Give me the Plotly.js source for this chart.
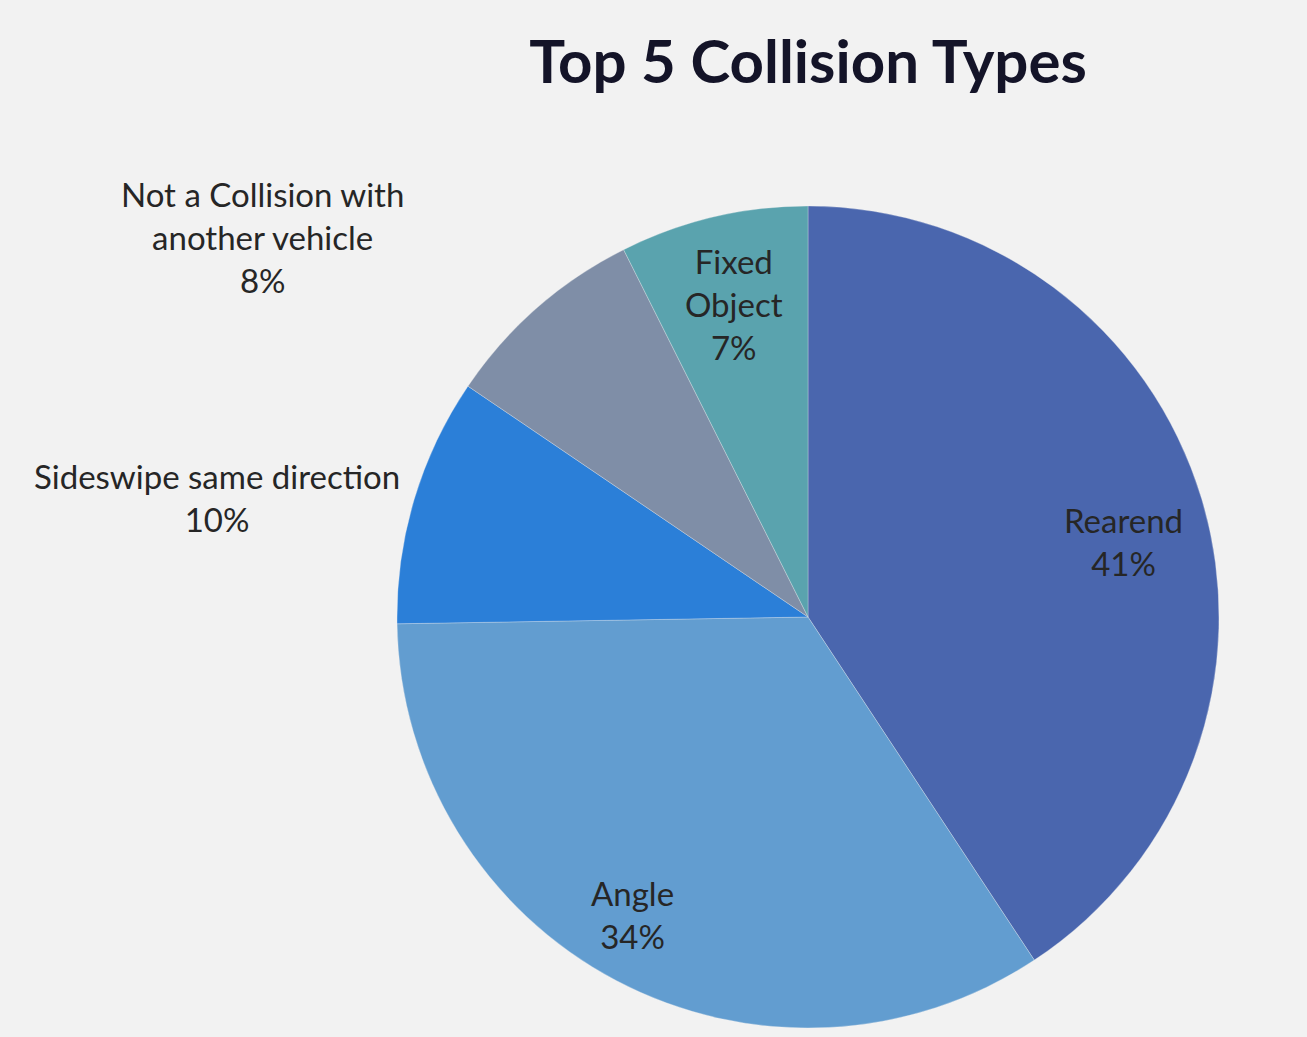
<!DOCTYPE html>
<html>
<head>
<meta charset="utf-8">
<script src="https://cdn.plot.ly/plotly-3.0.1.min.js"></script>
<style>
  html, body { margin: 0; padding: 0; background: #f2f2f2; }
  #chart { width: 1307px; height: 1037px; }
</style>
</head>
<body>
<div id="chart"></div>
<script>
// Data (share of top-5 collisions, %)
const categories = ["Rearend", "Angle", "Sideswipe same direction", "Not a Collision with another vehicle", "Fixed Object"];
const values = [40.7, 34.0, 9.75, 8.1, 7.4];
const labelLines = ["Rearend", "Angle", "Sideswipe same direction", "Not a Collision with<br>another vehicle", "Fixed<br>Object"];
const sliceColors = ["#4a66ae", "#629dd0", "#2b7fd8", "#7f8ea7", "#5aa3ae"];

const total = values.reduce((a, b) => a + b, 0);
const pctText = values.map(v => Math.round(v / total * 100) + "%");

// label anchor positions (paper coords) for each slice label
const labelPos = [
  { x: 1123 / 1307, y: 1 - 541 / 1037 },
  { x: 632 / 1307, y: 1 - 914 / 1037 },
  { x: 217 / 1307, y: 1 - 497 / 1037 },
  { x: 262 / 1307, y: 1 - 237 / 1037 },
  { x: 734 / 1307, y: 1 - 304 / 1037 }
];

const labelFont = { family: "Lato, 'Open Sans', sans-serif", size: 33, color: "#262626" };

const annotations = categories.map((c, i) => ({
  xref: "paper", yref: "paper",
  x: labelPos[i].x, y: labelPos[i].y,
  xanchor: "center", yanchor: "middle",
  text: labelLines[i] + "<br>" + pctText[i],
  showarrow: false,
  align: "center",
  font: labelFont
}));

const trace = {
  type: "pie",
  labels: categories,
  values: values,
  sort: false,
  direction: "clockwise",
  rotation: 0,
  textinfo: "none",
  hoverinfo: "label+percent",
  marker: { colors: sliceColors, line: { color: "#f2f2f2", width: 0.3 } },
  domain: { x: [397 / 1307, 1219 / 1307], y: [1 - 1028 / 1037, 1 - 206 / 1037] },
  showlegend: false
};

const layout = {
  width: 1307,
  height: 1037,
  paper_bgcolor: "#f2f2f2",
  plot_bgcolor: "#f2f2f2",
  margin: { l: 0, r: 0, t: 0, b: 0 },
  title: {
    text: "<b>Top 5 Collision Types</b>",
    x: 808 / 1307, xanchor: "center", xref: "paper",
    y: 1 - 62 / 1037, yanchor: "middle", yref: "paper",
    font: { family: "Lato, 'Open Sans', sans-serif", size: 60, color: "#141428" }
  },
  annotations: annotations,
  showlegend: false
};

Plotly.newPlot("chart", [trace], layout, { displayModeBar: false, staticPlot: true });
</script>
</body>
</html>
